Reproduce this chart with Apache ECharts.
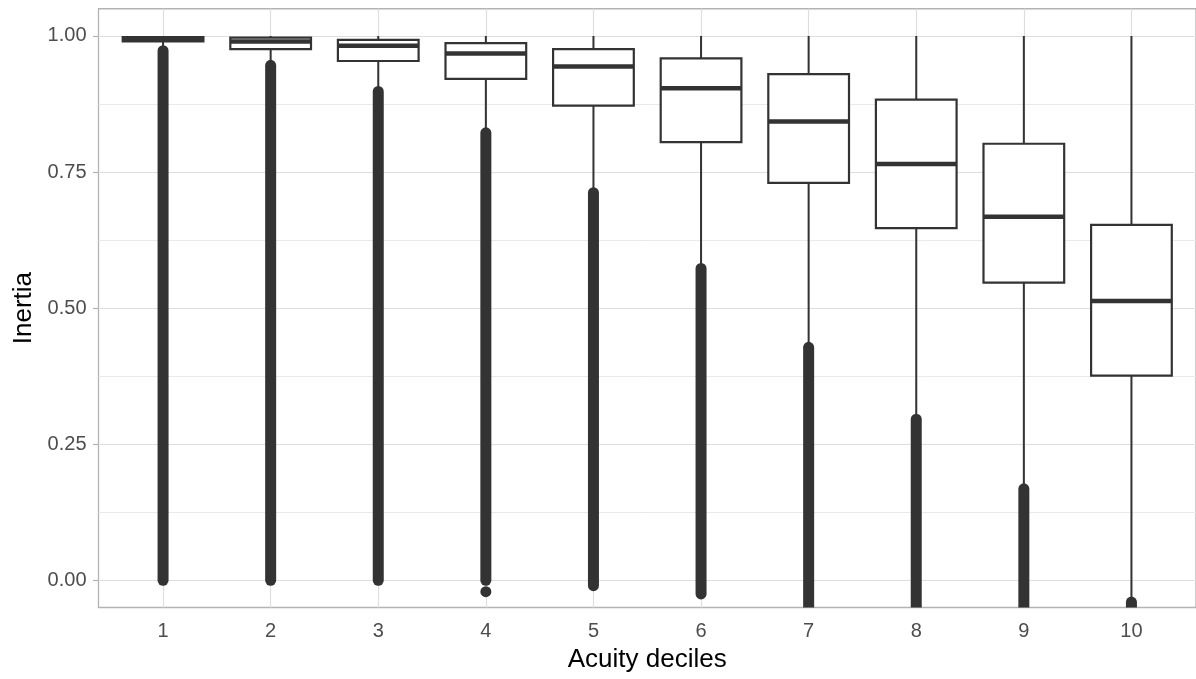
<!DOCTYPE html>
<html><head><meta charset="utf-8">
<script src="https://cdn.jsdelivr.net/npm/echarts@6/dist/echarts.min.js"></script>
<style>html,body{margin:0;padding:0;background:#fff}#c{width:1196px;height:679px}</style>
</head><body><div id="c"></div>
<script>
const deciles = [1, 2, 3, 4, 5, 6, 7, 8, 9, 10];
const whiskerLow  = [0.980, 0.952, 0.905, 0.830, 0.720, 0.580, 0.436, 0.305, 0.177, -0.035];
const q1          = [0.990, 0.976, 0.954, 0.921, 0.872, 0.805, 0.730, 0.647, 0.547, 0.376];
const median      = [0.995, 0.990, 0.982, 0.968, 0.944, 0.904, 0.843, 0.765, 0.668, 0.513];
const q3          = [0.998, 0.997, 0.993, 0.987, 0.976, 0.959, 0.930, 0.883, 0.802, 0.653];
const whiskerHigh = [1, 1, 1, 1, 1, 1, 1, 1, 1, 1];
const outlierTop    = [0.973, 0.946, 0.898, 0.822, 0.712, 0.573, 0.428, 0.296, 0.168, -0.040];
const outlierBottom = [0.000, 0.000, 0.000, 0.000, -0.010, -0.025, -0.060, -0.060, -0.060, -0.060];
const strayOutliers = [[4, -0.021]];
const yTicks = [0, 0.25, 0.5, 0.75, 1];
const yMinorTicks = [0.125, 0.375, 0.625, 0.875];

const INK = '#333333';
const FONT = '"Liberation Sans", Arial, Helvetica, sans-serif';

const boxData = deciles.map((d, i) => [d, whiskerLow[i], q1[i], median[i], q3[i], whiskerHigh[i]]);
const outData = deciles.map((d, i) => [d, outlierTop[i], outlierBottom[i]]);

const chart = echarts.init(document.getElementById('c'), null, {renderer: 'canvas'});
chart.setOption({
  animation: false,
  backgroundColor: '#ffffff',
  textStyle: {fontFamily: FONT},
  grid: {left: 98.5, top: 8.75, width: 1100, height: 598.75, show: true,
         borderColor: '#B3B3B3', borderWidth: 1.3, backgroundColor: 'transparent', containLabel: false},
  xAxis: {
    type: 'value', min: 0.4, max: 10.6,
    name: 'Acuity deciles', nameLocation: 'middle', nameGap: 39,
    nameTextStyle: {fontSize: 26, color: '#000000', fontFamily: FONT},
    axisLine: {show: false},
    axisTick: {show: true, customValues: deciles, length: 5.5, lineStyle: {color: '#B3B3B3', width: 1.2}},
    axisLabel: {customValues: deciles, fontSize: 20, color: '#4D4D4D', margin: 14, fontFamily: FONT},
    splitLine: {show: true, lineStyle: {color: '#DEDEDE', width: 1.2}}
  },
  yAxis: [{
    type: 'value', min: -0.05, max: 1.05,
    name: 'Inertia', nameLocation: 'middle', nameGap: 61, nameRotate: 90,
    nameTextStyle: {fontSize: 26, color: '#000000', fontFamily: FONT},
    axisLine: {show: false},
    axisTick: {show: true, customValues: yTicks, length: 5.5, lineStyle: {color: '#B3B3B3', width: 1.2}},
    axisLabel: {customValues: yTicks, fontSize: 20, color: '#4D4D4D', margin: 12, fontFamily: FONT,
                formatter: v => Number(v).toFixed(2)},
    splitLine: {show: true, lineStyle: {color: '#DEDEDE', width: 1.2}}
  }, {
    type: 'value', min: -0.05, max: 1.05, position: 'left',
    axisLine: {show: false},
    axisTick: {show: false, customValues: yMinorTicks},
    axisLabel: {show: false, customValues: yMinorTicks},
    splitLine: {show: true, lineStyle: {color: '#E6E6E6', width: 0.9}}
  }],
  series: [{
    type: 'custom', clip: true, data: outData,
    encode: {x: 0, y: [1, 2]},
    renderItem: function (params, api) {
      const x = api.value(0);
      const a = api.coord([x, api.value(1)]);
      const b = api.coord([x, api.value(2)]);
      return {type: 'line', shape: {x1: a[0], y1: a[1], x2: b[0], y2: b[1]},
              style: {stroke: INK, lineWidth: 11, lineCap: 'round'}};
    }
  }, {
    type: 'scatter', clip: true, data: strayOutliers, symbol: 'circle', symbolSize: 11,
    itemStyle: {color: INK, opacity: 1}
  }, {
    type: 'custom', clip: true, data: boxData,
    encode: {x: 0, y: [1, 2, 3, 4, 5]},
    renderItem: function (params, api) {
      const x = api.value(0);
      const lo = api.coord([x, api.value(1)]);
      const pq1 = api.coord([x, api.value(2)]);
      const pm = api.coord([x, api.value(3)]);
      const pq3 = api.coord([x, api.value(4)]);
      const hi = api.coord([x, api.value(5)]);
      const hw = api.size([0.75, 0])[0] / 2;
      const st = {stroke: INK, lineWidth: 2, fill: null};
      return {type: 'group', children: [
        {type: 'line', shape: {x1: hi[0], y1: hi[1], x2: pq3[0], y2: pq3[1]}, style: st},
        {type: 'line', shape: {x1: pq1[0], y1: pq1[1], x2: lo[0], y2: lo[1]}, style: st},
        {type: 'rect', shape: {x: pq3[0] - hw, y: pq3[1], width: hw * 2, height: pq1[1] - pq3[1]},
         style: {stroke: INK, lineWidth: 2.2, fill: '#ffffff'}},
        {type: 'line', shape: {x1: pm[0] - hw, y1: pm[1], x2: pm[0] + hw, y2: pm[1]},
         style: {stroke: INK, lineWidth: 4.5}}
      ]};
    }
  }]
});
</script></body></html>
